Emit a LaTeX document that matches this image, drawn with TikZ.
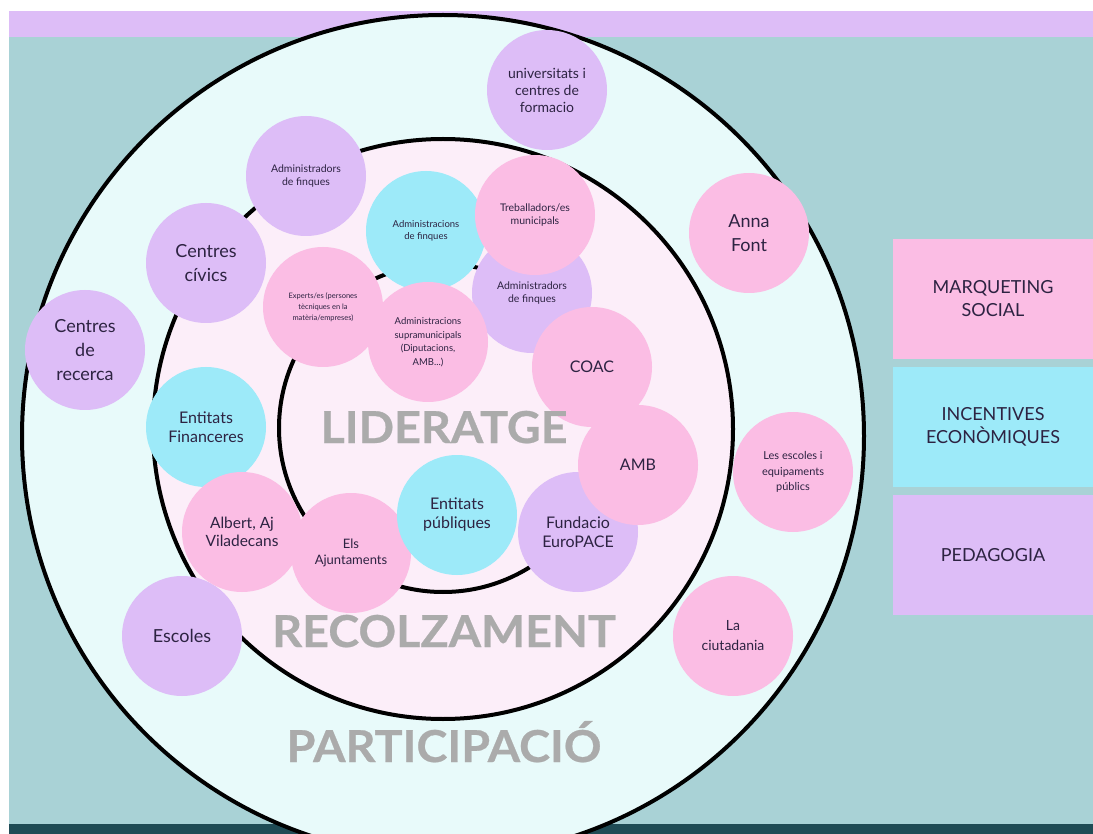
\documentclass[tikz,border=0pt]{standalone}
\usepackage{fontspec}
\setmainfont{Lato}
\newfontfamily\zonefont[FakeStretch=1.06, FakeBold=0.6]{Lato}

\begin{document}
\begin{tikzpicture}[
    x=1pt, y=-1pt,
    ring/.style={draw, circle, line width=4pt, inner sep=0pt},
    bubble/.style={circle, minimum size=120pt, inner sep=0pt,
                   align=center, text=cink},
    sidebox/.style={minimum width=200pt, minimum height=120pt, inner sep=0pt,
                    align=center, text=cink, font=\fontsize{18}{23}\selectfont},
    zone/.style={anchor=base, text=czone, font=\zonefont\fontsize{44}{44}\selectfont\bfseries},
    tbig/.style={font=\fontsize{18}{24}\selectfont},
    tmid/.style={font=\fontsize{16}{19}\selectfont},
    tsml/.style={font=\fontsize{10.5}{13}\selectfont},
]
% ---- colours ----
\definecolor{cpink}{HTML}{FBBDE4}   % marqueting social
\definecolor{ccyan}{HTML}{9DEAF9}   % incentives
\definecolor{cpurp}{HTML}{DDBDF7}   % pedagogia
\definecolor{couter}{HTML}{E8FAFA}
\definecolor{cmid}{HTML}{FCEEF9}
\definecolor{cback}{HTML}{A9D2D6}
\definecolor{cdark}{HTML}{1F4B55}
\definecolor{cink}{HTML}{2D2342}
\definecolor{czone}{HTML}{ABABAB}
\useasboundingbox (0,0) rectangle (1093,834);
% ---- background ----
\fill[white] (0,0) rectangle (1093,834);
\fill[cback] (9,37) rectangle (1093,824);
\fill[cdark] (9,824) rectangle (1093,834);
\fill[cpurp] (9,11) rectangle (1093,37);

% ---- the three rings ----
\node[ring, fill=couter, minimum size=842pt] (outer) at (443,436) {};
\node[ring, fill=cmid, minimum size=580pt] (middle) at (443,429) {};
\node[ring, fill=cmid, minimum size=328pt] (inner) at (443,428) {};

% ---- outer ring: participacio ----
\node[bubble, fill=cpurp, font=\fontsize{14}{17}\selectfont] (unis) at (547,90) {universitats i\\centres de\\formacio};
\node[bubble, fill=cpurp, tbig] (recerca) at (85,350) {Centres\\de\\recerca};
\node[bubble, fill=cpink, tbig] (anna) at (749,233) {Anna\\Font};
\node[bubble, fill=cpink, font=\fontsize{11}{15.5}\selectfont] (lesesc) at (793,472) {Les escoles i\\equipaments\\públics};
\node[bubble, fill=cpink, font=\fontsize{14}{20}\selectfont] (ciutad) at (733,636) {La\\ciutadania};
\node[bubble, fill=cpurp, tbig] (escoles) at (182,636) {Escoles};

% ---- middle ring: recolzament ----
\node[bubble, fill=cpurp, tsml] (adminL) at (306,176) {Administradors\\de finques};
\node[bubble, fill=cpurp, tbig] (civics) at (206,263) {Centres\\cívics};
\node[bubble, fill=ccyan, tmid] (financ) at (206,427) {Entitats\\Financeres};
\node[bubble, fill=cpink, font=\fontsize{15.5}{18.5}\selectfont] (albert) at (242,532) {Albert, Aj\\Viladecans};
\node[bubble, fill=cpink, font=\fontsize{13}{16}\selectfont] (ajunt) at (351,553) {Els\\Ajuntaments};

% ---- inner ring: lideratge ----
\node[bubble, fill=ccyan, font=\fontsize{9.5}{12.5}\selectfont] (adminC) at (426,231) {Administracions\\de finques};
\node[bubble, fill=cpurp, tsml] (adminR) at (532,293) {Administradors\\de finques};
\node[bubble, fill=cpink, tsml] (treball) at (535,215) {Treballadors/es\\municipals};
\node[bubble, fill=cpink, font=\fontsize{7.5}{11}\selectfont] (experts) at (323,307) {Experts/es (persones\\tècniques en la\\matèria/empreses)};
\node[bubble, fill=cpink, font=\fontsize{9.5}{13.5}\selectfont] (supra) at (428,342) {Administracions\\supramunicipals\\(Diputacions,\\AMB...)};
\node[bubble, fill=cpink, tmid] (coac) at (592,367) {COAC};
\node[bubble, fill=ccyan, tmid] (public) at (457,515) {Entitats\\públiques};
\node[bubble, fill=cpurp, tmid] (europace) at (578,532) {Fundacio\\EuroPACE};
\node[bubble, fill=cpink, tmid] (amb) at (638,465) {AMB};

% ---- ring titles ----
\node[zone] (lider) at (444,443) {LIDERATGE};
\node[zone] (recolz) at (444,647) {RECOLZAMENT};
\node[zone] (partic) at (444,762) {PARTICIPACIÓ};

% ---- legend ----
\node[sidebox, fill=cpink] (mkt) at (993,299) {MARQUETING\\SOCIAL};
\node[sidebox, fill=ccyan] (incent) at (993,427) {INCENTIVES\\ECONÒMIQUES};
\node[sidebox, fill=cpurp] (pedag) at (993,555) {PEDAGOGIA};
\end{tikzpicture}
\end{document}
